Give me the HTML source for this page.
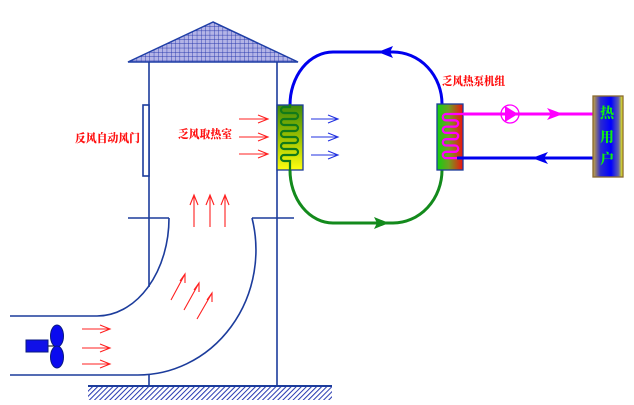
<!DOCTYPE html>
<html><head><meta charset="utf-8"><style>
html,body{margin:0;padding:0;background:#fff;}
svg{display:block;}
text{font-family:"Liberation Serif","Noto Serif CJK SC","Noto Sans CJK SC",serif;font-weight:900;}
</style></head><body>
<svg width="634" height="405" viewBox="0 0 634 405" xmlns="http://www.w3.org/2000/svg">
<defs>
<pattern id="tile" x="128" y="22" width="4.3" height="4.3" patternUnits="userSpaceOnUse">
<rect width="4.3" height="4.3" fill="#b4b4e6"/>
<path d="M0 0H4.3M0 0V4.3" stroke="#2a3aae" stroke-width="0.9"/>
</pattern>
<pattern id="hatch" width="3.6" height="3.6" patternUnits="userSpaceOnUse" patternTransform="rotate(45)">
<rect width="3.6" height="3.6" fill="#fff"/>
<line x1="0" y1="0" x2="0" y2="3.6" stroke="#2436b0" stroke-width="2"/>
</pattern>
<linearGradient id="gL" x1="0" y1="0" x2="0" y2="1">
<stop offset="0" stop-color="#3f8a0c"/><stop offset="0.5" stop-color="#9cc000"/><stop offset="1" stop-color="#ffff10"/>
</linearGradient>
<linearGradient id="gR" x1="0" y1="0" x2="1" y2="0">
<stop offset="0" stop-color="#10d010"/><stop offset="0.45" stop-color="#70a020"/><stop offset="1" stop-color="#f01010"/>
</linearGradient>
<linearGradient id="gU" x1="0" y1="0" x2="1" y2="0">
<stop offset="0" stop-color="#c8a840"/><stop offset="0.25" stop-color="#2a2ad0"/><stop offset="0.6" stop-color="#0000ff"/><stop offset="0.85" stop-color="#6060b0"/><stop offset="1" stop-color="#ffff00"/>
</linearGradient>
</defs>

<!-- roof -->
<polygon points="213,22 128,62 298,62" fill="url(#tile)" stroke="#1f3ea6" stroke-width="1.5"/>

<g stroke="#1c3c9c" stroke-width="1.6" fill="none">
<line x1="149" y1="62" x2="149" y2="287"/>
<line x1="149" y1="374" x2="149" y2="386"/>
<line x1="277" y1="62" x2="277" y2="386"/>
<rect x="143" y="105" width="6" height="71" fill="#fff"/>
<line x1="128" y1="218" x2="169" y2="218"/>
<line x1="252" y1="218" x2="294" y2="218"/>
<line x1="10" y1="316" x2="97" y2="316"/>
<line x1="10" y1="375" x2="137" y2="375"/>
<path d="M169 218 A72 98 0 0 1 97 316"/>
<path d="M252 218 A118 125 0 0 1 137 375"/>
<line x1="88" y1="386" x2="332" y2="386" stroke-width="2"/>
</g>
<rect x="88" y="387" width="244" height="13" fill="url(#hatch)"/>

<!-- fan -->
<line x1="48" y1="346" x2="57" y2="346" stroke="#000" stroke-width="1"/>
<rect x="26" y="340" width="22" height="12" fill="#1010e8" stroke="#0a1a80" stroke-width="1"/>
<ellipse cx="57" cy="336" rx="6.5" ry="11" fill="#0a0af0" stroke="#0a1a80" stroke-width="1"/>
<ellipse cx="57" cy="357" rx="6.5" ry="11" fill="#0a0af0" stroke="#0a1a80" stroke-width="1"/>

<!-- red arrows -->
<g stroke="#ff2020" stroke-width="1.1" fill="none">
<path d="M239 119H268M258 115L268 119L258 123"/>
<path d="M239 137H268M258 133L268 137L258 141"/>
<path d="M239 154H268M258 150L268 154L258 158"/>
<path d="M82 329H110M100 325L110 329L100 333"/>
<path d="M82 348H110M100 344L110 348L100 352"/>
<path d="M82 364H110M100 360L110 364L100 368"/>
<path d="M194 227V195M190 205L194 195L198 205"/>
<path d="M210 227V195M206 205L210 195L214 205"/>
<path d="M225 227V195M221 205L225 195L229 205"/>
<path d="M171 300L185 274M180 281L185 274L185 283"/>
<path d="M184 310L199 283M194 290L199 283L199 292"/>
<path d="M197 319L212 293M207 300L212 293L212 302"/>
</g>
<g stroke="#2030e0" stroke-width="1.1" fill="none">
<path d="M311 119H338M328 115L338 119L328 123"/>
<path d="M311 137H338M328 133L338 137L328 141"/>
<path d="M311 155H338M328 151L338 155L328 159"/>
</g>

<!-- loops -->
<path d="M290 105 A43 53 0 0 1 333 52 H393 A49 52 0 0 1 442 104" stroke="#0000ee" stroke-width="3" fill="none"/>
<polygon points="378,52 393,46 390,52 393,58" fill="#0000ee"/>
<path d="M290 170 A43 53 0 0 0 333 223 H393 A49 53 0 0 0 442 170" stroke="#138a1c" stroke-width="3" fill="none"/>
<polygon points="389,223 374,217 377,223 374,229" fill="#138a1c"/>

<!-- left coil box -->
<rect x="277" y="105" width="26" height="65" fill="url(#gL)" stroke="#1c3c9c" stroke-width="1.3"/>
<path d="M290 104V107H284A3 3 0 0 0 284 113H295A3 3 0 0 1 295 119H284A3 3 0 0 0 284 125H295A3 3 0 0 1 295 131H284A3 3 0 0 0 284 137H295A3 3 0 0 1 295 143H284A3 3 0 0 0 284 149H295A3 3 0 0 1 295 155H284A3 3 0 0 0 284 161H290V171" stroke="#127a1a" stroke-width="2.2" fill="none"/>

<!-- right coil box -->
<rect x="437" y="104" width="26" height="66" fill="url(#gR)" stroke="#1c3c9c" stroke-width="1.3"/>
<path d="M463 114H446A3.15 3.15 0 0 0 446 120.3H455A3.15 3.15 0 0 1 455 126.6H446A3.15 3.15 0 0 0 446 132.9H455A3.15 3.15 0 0 1 455 139.2H446A3.15 3.15 0 0 0 446 145.5H455A3.15 3.15 0 0 1 455 151.8H446A3.15 3.15 0 0 0 446 158.1H457" stroke="#ff00ff" stroke-width="2.3" fill="none"/>

<line x1="463" y1="114" x2="593" y2="114" stroke="#ff00ff" stroke-width="3"/>
<circle cx="510" cy="114" r="9" fill="#fff" stroke="#ff00ff" stroke-width="1.3"/>
<line x1="501" y1="114" x2="519" y2="114" stroke="#ff00ff" stroke-width="3"/>
<polygon points="505,106 518,114 505,122" fill="#ff00ff"/>
<polygon points="563,114 547,108 551,114 547,120" fill="#ff00ff"/>
<line x1="457" y1="158" x2="593" y2="158" stroke="#0000ee" stroke-width="3"/>
<polygon points="532,158 548,152 544,158 548,164" fill="#0000ee"/>

<!-- heat user -->
<rect x="593" y="96" width="30" height="81" fill="url(#gU)" stroke="#8a6a30" stroke-width="1.3"/>
<g fill="#10f010" font-size="14" text-anchor="middle">
<text x="607" y="118">热</text>
<text x="607" y="142">用</text>
<text x="607" y="164">户</text>
</g>

<g fill="#ff1010">
<text x="75" y="142" font-size="11.5" textLength="65" lengthAdjust="spacingAndGlyphs">反风自动风门</text>
<text x="178" y="138" font-size="11.5" textLength="54" lengthAdjust="spacingAndGlyphs">乏风取热室</text>
<text x="442" y="85" font-size="11.5" textLength="63" lengthAdjust="spacingAndGlyphs">乏风热泵机组</text>
</g>
</svg>
</body></html>
